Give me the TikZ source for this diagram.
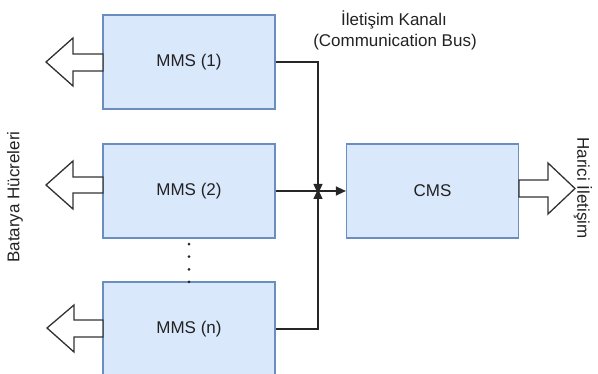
\documentclass[tikz,border=0pt]{standalone}
\usepackage{fontspec}
\setmainfont{Liberation Sans}
\usetikzlibrary{arrows.meta}
\definecolor{boxfill}{HTML}{DAE8FC}
\definecolor{boxline}{HTML}{6C8EBF}
\definecolor{txt}{HTML}{222222}
\tikzset{
  blk/.style={draw=boxline, fill=boxfill, line width=1.2pt, minimum width=172pt, minimum height=94pt, inner sep=0pt, text=txt, font=\fontsize{17}{20}\selectfont},
  fat/.style={draw=black!80, fill=white, line width=1.3pt, line join=miter},
  conn/.style={draw=black!85, line width=1.3pt, -{Triangle[length=10pt,width=9pt]}},
  lbl/.style={text=txt, font=\fontsize{17}{20}\selectfont, inner sep=0pt, align=center}
}
\begin{document}
\begin{tikzpicture}[x=1pt,y=-1pt]
\useasboundingbox (0,0) rectangle (598,374);
\clip (0,0) rectangle (598,374);
% boxes
\node[blk] (m1) at (189,62) {MMS (1)};
\node[blk] (m2) at (189,191) {MMS (2)};
\node[blk] (mn) at (189,329) {MMS (n)};
\node[blk] (cms) at (432.5,191) {CMS};
% fat arrows
\draw[fat] (103,54) -- (73,54) -- (73,38) -- (46,62) -- (73,86) -- (73,71) -- (103,71) -- cycle;
\draw[fat] (103,177) -- (73,177) -- (73,161) -- (46,185) -- (73,209) -- (73,193) -- (103,193) -- cycle;
\draw[fat] (103,320) -- (74,320) -- (74,305) -- (47,328) -- (74,352) -- (74,337) -- (103,337) -- cycle;
\draw[fat] (519,180) -- (548,180) -- (548,163) -- (575,188.5) -- (548,214) -- (548,197) -- (519,197) -- cycle;
% dots
\draw[black!85, line width=3pt, line cap=round, dash pattern=on 0pt off 12.6pt] (m2.south) ++(0,5.5) -- ++(0,40);
% junction
\coordinate (j) at (318,191);
\draw[conn] (m1.east) -| ([yshift=-3pt]j);
\draw[conn] (mn.east) -| ([yshift=2pt]j);
\draw[conn] (m2.east) -- (cms.west);
% labels
\node[lbl] (t1) at (394,20) {İletişim Kanalı};
\node[lbl] (t2) at (395,42) {(Communication Bus)};
\node[lbl, rotate=90] (bh) at (15,197) {Batarya Hücreleri};
\node[lbl, rotate=-90] (hi) at (583,188) {Harici İletişim};
\end{tikzpicture}
\end{document}
